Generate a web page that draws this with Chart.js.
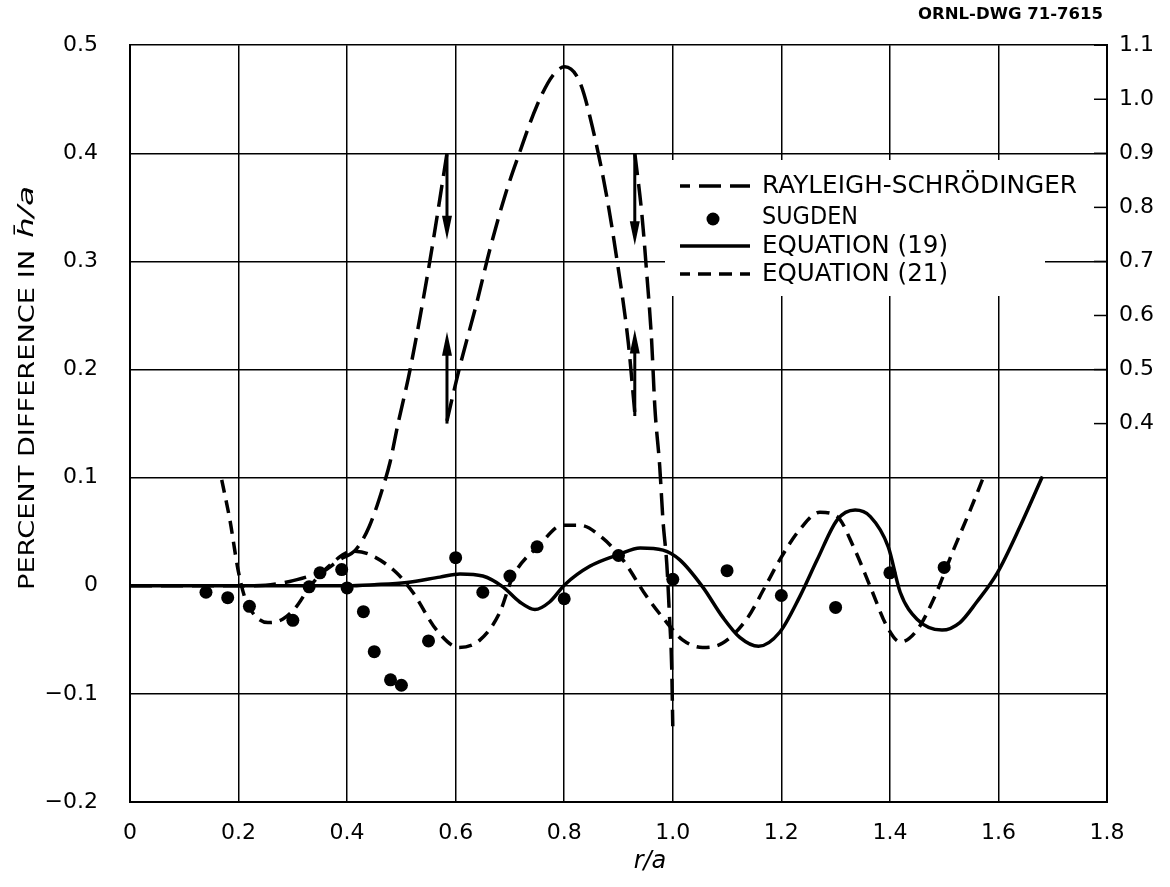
<!DOCTYPE html>
<html>
<head>
<meta charset="utf-8">
<script src="https://cdn.jsdelivr.net/npm/chart.js@4.4.1/dist/chart.umd.min.js"></script>
<style>
  html, body { margin: 0; padding: 0; background: #fff; }
</style>
</head>
<body>
<canvas id="chart" width="1170" height="887"></canvas>
<script>
// ---- data (x = r/a, y = percent difference) ----

// Rayleigh-Schrodinger, lower part on the left scale
const rsLowX = [0, 0.1, 0.2, 0.25, 0.294, 0.331, 0.355, 0.386, 0.417, 0.441, 0.469, 0.479, 0.493, 0.516, 0.552, 0.584];
const rsLowY = [0, 0, 0, 0.0005, 0.004, 0.009, 0.013, 0.024, 0.034, 0.055, 0.096, 0.114, 0.148, 0.2, 0.299, 0.40];
// Rayleigh-Schrodinger, peak on the right-hand scale
const rsHighX = [0.584, 0.605, 0.639, 0.663, 0.691, 0.718, 0.75, 0.779, 0.801, 0.829, 0.853, 0.878, 0.897, 0.918, 0.930];
const rsHighY = [0.405, 0.495, 0.624, 0.722, 0.822, 0.902, 0.989, 1.044, 1.06, 1.031, 0.944, 0.822, 0.704, 0.55, 0.42];
// Rayleigh-Schrodinger, falling part back on the left scale
const rsFallX = [0.930, 0.943, 0.952, 0.961, 0.967, 0.976, 0.982, 0.989, 0.994, 0.998, 1.0];
const rsFallY = [0.40, 0.344, 0.289, 0.227, 0.165, 0.11, 0.06, 0.02, -0.029, -0.075, -0.13];

const sugdenX = [0.14, 0.18, 0.22, 0.30, 0.33, 0.35, 0.39, 0.40, 0.43, 0.45, 0.48, 0.50, 0.55, 0.60, 0.65, 0.70, 0.75, 0.80, 0.90, 1.0, 1.1, 1.2, 1.3, 1.4, 1.5];
const sugdenY = [-0.006, -0.011, -0.019, -0.032, -0.001, 0.012, 0.015, -0.002, -0.024, -0.061, -0.087, -0.092, -0.051, 0.026, -0.006, 0.009, 0.036, -0.012, 0.028, 0.006, 0.014, -0.009, -0.020, 0.012, 0.017];

const eq19X = [0, 0.2, 0.4, 0.45, 0.51, 0.571, 0.608, 0.65, 0.687, 0.718, 0.746, 0.773, 0.801, 0.847, 0.901, 0.94, 0.982, 1.013, 1.055, 1.092, 1.124, 1.158, 1.197, 1.234, 1.266, 1.303, 1.336, 1.364, 1.397, 1.419, 1.45, 1.496, 1.529, 1.56, 1.598, 1.64, 1.681];
const eq19Y = [0, 0, 0, 0.001, 0.003, 0.008, 0.011, 0.009, -0.001, -0.015, -0.022, -0.015, 0.001, 0.018, 0.029, 0.035, 0.033, 0.024, -0.001, -0.029, -0.048, -0.056, -0.043, -0.010, 0.024, 0.061, 0.070, 0.064, 0.036, -0.006, -0.031, -0.041, -0.034, -0.015, 0.012, 0.055, 0.101];

const eq21X = [0.169, 0.184, 0.199, 0.211, 0.226, 0.254, 0.281, 0.307, 0.331, 0.368, 0.41, 0.441, 0.491, 0.521, 0.565, 0.606, 0.645, 0.681, 0.705, 0.755, 0.797, 0.829, 0.871, 0.908, 0.952, 0.989, 1.018, 1.055, 1.092, 1.136, 1.17, 1.197, 1.234, 1.271, 1.303, 1.333, 1.364, 1.395, 1.419, 1.45, 1.48, 1.517, 1.548, 1.572];
const eq21Y = [0.098, 0.061, 0.015, -0.010, -0.025, -0.034, -0.031, -0.019, -0.001, 0.019, 0.032, 0.029, 0.012, -0.006, -0.041, -0.057, -0.050, -0.025, 0.008, 0.038, 0.056, 0.056, 0.044, 0.024, -0.010, -0.034, -0.050, -0.057, -0.053, -0.031, -0.001, 0.024, 0.052, 0.068, 0.064, 0.036, -0.001, -0.038, -0.052, -0.041, -0.013, 0.033, 0.070, 0.100];

// scale-change arrows: x, start, end (left scale units)
const arrowX = [0.584, 0.584, 0.930, 0.930];
const arrowFrom = [0.40, 0.15, 0.40, 0.157];
const arrowTo = [0.32, 0.235, 0.315, 0.237];

const xTicks = [0, 0.2, 0.4, 0.6, 0.8, 1.0, 1.2, 1.4, 1.6, 1.8];
const rightTicks = [0.4, 0.5, 0.6, 0.7, 0.8, 0.9, 1.0, 1.1];

const legendNames = ['RAYLEIGH-SCHRÖDINGER', 'SUGDEN', 'EQUATION (19)', 'EQUATION (21)'];

const FONT = '"DejaVu Sans", "Liberation Sans", sans-serif';

function pairs(xs, ys) {
  return xs.map((x, i) => ({ x: x, y: ys[i] }));
}

// stretch or squeeze a string to a given width, lettering-guide style
function fitText(c, text, x, y, width) {
  const w = c.measureText(text).width;
  c.save();
  c.translate(x, y);
  c.scale(width / w, 1);
  c.fillText(text, 0, 0);
  c.restore();
}

const lineBase = {
  showLine: true, pointRadius: 0, borderColor: '#000', backgroundColor: '#000',
  fill: false, cubicInterpolationMode: 'monotone'
};

const rsDash = [22, 9];
const eq21Dash = [13, 8];

// draws the legend box, arrows, right-hand ticks and the titles
const drawingExtras = {
  id: 'drawingExtras',
  beforeDatasetsDraw(chart) {
    const c = chart.ctx;
    c.save();
    c.fillStyle = '#fff';
    c.fillRect(665, 160, 380, 136);
    c.restore();
  },
  afterDatasetsDraw(chart) {
    const c = chart.ctx;
    const xs = chart.scales.x, ys = chart.scales.y, y2 = chart.scales.y2;
    c.save();
    c.strokeStyle = '#000';
    c.fillStyle = '#000';

    // arrows
    for (let i = 0; i < arrowX.length; i++) {
      const px = xs.getPixelForValue(arrowX[i]);
      const p0 = ys.getPixelForValue(arrowFrom[i]);
      const p1 = ys.getPixelForValue(arrowTo[i]);
      const dir = p1 > p0 ? 1 : -1;
      c.lineWidth = 3;
      c.setLineDash([]);
      c.beginPath();
      c.moveTo(px, p0);
      c.lineTo(px, p1 - dir * 18);
      c.stroke();
      c.beginPath();
      c.moveTo(px, p1);
      c.lineTo(px - 5, p1 - dir * 24);
      c.lineTo(px + 5, p1 - dir * 24);
      c.closePath();
      c.fill();
    }

    // inward ticks on the right-hand scale
    c.lineWidth = 1.5;
    rightTicks.forEach(v => {
      const py = y2.getPixelForValue(v);
      c.beginPath();
      c.moveTo(chart.chartArea.right - 13, py);
      c.lineTo(chart.chartArea.right, py);
      c.stroke();
    });

    // legend
    const rows = [186, 217, 246, 274];
    c.lineWidth = 3.5;
    c.setLineDash(rsDash);
    c.lineDashOffset = 12;
    c.beginPath(); c.moveTo(680, rows[0]); c.lineTo(750, rows[0]); c.stroke();
    c.setLineDash([]);
    c.beginPath(); c.arc(713, rows[1] + 2, 6.5, 0, Math.PI * 2); c.fill();
    c.beginPath(); c.moveTo(680, rows[2]); c.lineTo(750, rows[2]); c.stroke();
    c.setLineDash(eq21Dash);
    c.lineDashOffset = 3;
    c.beginPath(); c.moveTo(680, rows[3]); c.lineTo(750, rows[3]); c.stroke();
    c.setLineDash([]);
    c.font = '24px ' + FONT;
    c.textBaseline = 'middle';
    c.textAlign = 'left';
    const widths = [315, 96, 186, 186];
    legendNames.forEach((t, i) => fitText(c, t, 762, rows[i] + 1, widths[i]));

    // drawing number
    c.font = 'bold 16px ' + FONT;
    fitText(c, 'ORNL-DWG 71-7615', 918, 15, 185);

    // x title
    c.font = 'italic 24px ' + FONT;
    c.textAlign = 'center';
    c.fillText('r/a', 650, 862);

    // y title, rotated
    c.translate(28, 590);
    c.rotate(-Math.PI / 2);
    c.textAlign = 'left';
    c.font = '22px ' + FONT;
    fitText(c, 'PERCENT DIFFERENCE IN', 0, 0, 340);
    c.font = 'italic 22px ' + FONT;
    fitText(c, 'h\u0304/a', 352, -1, 52);
    c.restore();
  }
};

new Chart(document.getElementById('chart'), {
  type: 'scatter',
  data: {
    datasets: [
      Object.assign({ label: 'RS low', data: pairs(rsLowX, rsLowY), yAxisID: 'y', borderWidth: 3.5, borderDash: rsDash }, lineBase),
      Object.assign({ label: 'RS high', data: pairs(rsHighX, rsHighY), yAxisID: 'y2', borderWidth: 3.5, borderDash: rsDash }, lineBase),
      Object.assign({ label: 'RS fall', data: pairs(rsFallX, rsFallY), yAxisID: 'y', borderWidth: 3.5, borderDash: rsDash }, lineBase),
      Object.assign({ label: 'Equation (19)', data: pairs(eq19X, eq19Y), yAxisID: 'y', borderWidth: 3.5 }, lineBase),
      Object.assign({ label: 'Equation (21)', data: pairs(eq21X, eq21Y), yAxisID: 'y', borderWidth: 3.5, borderDash: eq21Dash }, lineBase),
      {
        label: 'Sugden', data: pairs(sugdenX, sugdenY), yAxisID: 'y',
        showLine: false, pointRadius: 6.5, pointBackgroundColor: '#000', pointBorderWidth: 0
      }
    ]
  },
  options: {
    responsive: false,
    animation: false,
    layout: { padding: { top: 45, left: 0, right: 0, bottom: 0 } },
    plugins: { legend: { display: false }, tooltip: { enabled: false } },
    scales: {
      x: {
        type: 'linear', min: 0, max: 1.8,
        afterBuildTicks: s => { s.ticks = xTicks.map(v => ({ value: v })); },
        afterFit: s => { s.height = 85; },
        ticks: {
          color: '#000', padding: 18, maxRotation: 0,
          font: { family: FONT, size: 22 },
          callback: v => v === 0 ? '0' : Number(v).toFixed(1)
        },
        grid: { color: '#000', lineWidth: 1.5, drawTicks: false },
        border: { color: '#000', width: 2 }
      },
      y: {
        type: 'linear', min: -0.2, max: 0.5,
        ticks: {
          stepSize: 0.1, color: '#000', padding: 32,
          font: { family: FONT, size: 22 },
          callback: v => {
            const r = Math.round(v * 10) / 10;
            if (r === 0) return '0';
            return r < 0 ? '\u2212' + Math.abs(r).toFixed(1) : r.toFixed(1);
          }
        },
        afterFit: s => { s.width = 130; },
        grid: { color: '#000', lineWidth: 1.5, drawTicks: false },
        border: { color: '#000', width: 2 }
      },
      y2: {
        type: 'linear', position: 'right', min: -0.3, max: 1.1,
        afterBuildTicks: s => { s.ticks = rightTicks.map(v => ({ value: v })); },
        ticks: {
          color: '#000', padding: 12,
          font: { family: FONT, size: 22 },
          callback: v => Number(v).toFixed(1)
        },
        afterFit: s => { s.width = 63; },
        grid: { drawOnChartArea: false, drawTicks: false, color: 'rgba(0,0,0,0)' },
        border: { color: '#000', width: 2 }
      }
    }
  },
  plugins: [drawingExtras]
});
</script>
</body>
</html>
